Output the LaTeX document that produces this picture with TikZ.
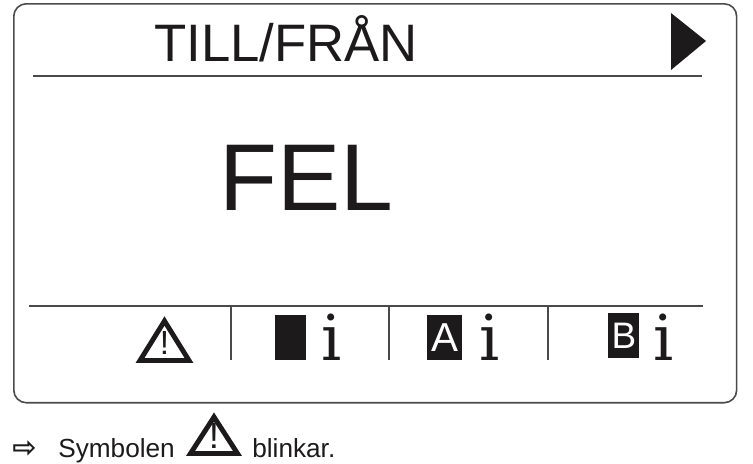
\documentclass[tikz,border=0pt]{standalone}
\usepackage{fontspec}
\setmainfont{Liberation Sans}
\newfontfamily\serifi{DejaVu Serif}
\newfontfamily\arrowfont{DejaVu Sans}
\usetikzlibrary{shapes.geometric}
\definecolor{ink}{HTML}{1C1A1A}
\definecolor{rim}{HTML}{4A4A4A}
\tikzset{
    label/.style={inner sep=0pt, anchor=base west, text=ink},
    softkey/.style={inner sep=0pt, anchor=north west, fill=ink, text=white},
    info/.style={inner sep=0pt, anchor=base west, text=ink, font=\serifi\fontsize{36}{36}\selectfont},
    rule/.style={draw=rim, line width=0.6pt},
    warn/.style={draw=ink, line join=miter, fill=white}
}

\begin{document}
\begin{tikzpicture}[x=0.02cm, y=-0.02cm]
    \useasboundingbox (0, 0) rectangle (753, 463);

    % display
    \node[draw=rim, line width=0.9pt, rounded corners=0.25cm, minimum width=14.46cm, minimum height=7.98cm, inner sep=0pt, anchor=north west] (frame) at (13, 3) {};
    \node[label, font=\fontsize{30}{30}\selectfont] (title) at (154, 61) {TILL/FRÅN};
    \coordinate (topa) at (33, 76);
    \coordinate (topb) at (702, 76);
    \draw[rule] (topa) -- (topb);
    \coordinate (nexta) at (671, 13);
    \coordinate (nextb) at (706, 41);
    \coordinate (nextc) at (671, 70);
    \fill[ink] (nexta) -- (nextb) -- (nextc) -- cycle;
    \node[label, font=\fontsize{54}{54}\selectfont] (fel) at (219, 210) {FEL};

    % soft keys
    \coordinate (bota) at (29, 306);
    \coordinate (botb) at (703, 306);
    \draw[rule] (bota) -- (botb);
    \foreach \n/\x in {one/231, two/389, three/548} {
        \coordinate (\n a) at (\x, 306);
        \coordinate (\n b) at (\x, 360);
        \draw[rule] (\n a) -- (\n b);
    }

    \coordinate (warna) at (164.5, 321);
    \coordinate (warnb) at (140, 360.5);
    \coordinate (warnc) at (189, 360.5);
    \draw[warn, line width=2.8pt] (warna) -- (warnb) -- (warnc) -- cycle;
    \node[inner sep=0pt, text=ink, font=\fontsize{19}{19}\selectfont] (warnmark) at (164.5, 343) {!};

    \node[softkey, minimum width=0.62cm, minimum height=0.9cm] (keyblank) at (275, 315) {};
    \node[info] (infoblank) at (321, 360) {i};
    \node[softkey, minimum width=0.7cm, minimum height=0.9cm, font=\fontsize{23}{23}\selectfont] (keya) at (427, 315) {A};
    \node[info] (infoa) at (479, 360) {i};
    \node[softkey, minimum width=0.62cm, minimum height=0.9cm, font=\fontsize{21}{21}\selectfont] (keyb) at (608, 313) {B};
    \node[info] (infob) at (653, 360) {i};

    % line below
    \node[label, font=\arrowfont\bfseries\fontsize{16.5}{16.5}\selectfont] (arrow) at (12, 457) {⇨};
    \node[label, font=\fontsize{14.9}{14.9}\selectfont] (symbolen) at (58, 457) {Symbolen};
    \coordinate (signa) at (214, 417);
    \coordinate (signb) at (190.5, 453.5);
    \coordinate (signc) at (237.5, 453.5);
    \draw[warn, line width=2.8pt] (signa) -- (signb) -- (signc) -- cycle;
    \node[inner sep=0pt, text=ink, font=\fontsize{21}{21}\selectfont] (signmark) at (214, 436) {!};
    \node[label, font=\fontsize{14.9}{14.9}\selectfont] (blinkar) at (252, 457) {blinkar.};
\end{tikzpicture}
\end{document}
